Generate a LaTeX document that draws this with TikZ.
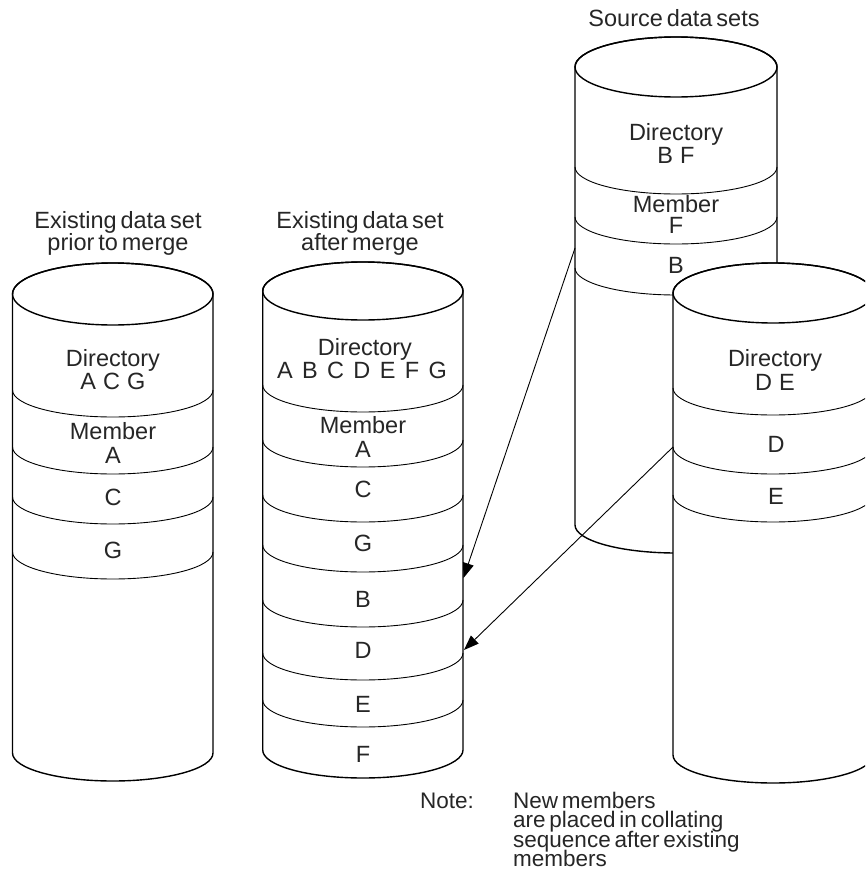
\documentclass[tikz,border=0pt]{standalone}
\usepackage{fontspec}
\setmainfont{Liberation Sans}[WordSpace=0.6]
\usetikzlibrary{arrows.meta}
\newcommand\cylshape[5]{% #1 cx, #2 top centre y, #3 bottom side y, #4 rx, #5 ry
  \filldraw[cylline,fill=white] ({#1-#4},#2) -- ({#1-#4},#3)
    arc[start angle=180,end angle=0,x radius=#4,y radius=28] -- ({#1+#4},#2)
    arc[start angle=0,end angle=-180,x radius=#4,y radius=#5] -- cycle;
  \draw[cylline] (#1,#2) ellipse[x radius=#4,y radius=#5];
}
\newcommand\cyldiv[3]{% #1 cx, #2 side y, #3 rx
  \draw[divline] ({#1-#3},#2) arc[start angle=180,end angle=0,x radius=#3,y radius=27];
}
\newcommand\ls{\hspace{0.3em}}
\newcommand\lw{\hspace{0.4em}}
\tikzset{
  cylline/.style={line width=1.4pt},
  divline/.style={line width=0.9pt},
  arr/.style={line width=0.9pt,-{Triangle[length=15pt,width=11pt]}},
  txt/.style={font=\fontsize{23.5}{22}\selectfont,inner sep=0pt,anchor=base,text=black!85},
  ntxt/.style={txt,font=\fontsize{22.5}{19}\selectfont,anchor=base west}
}
\begin{document}
\begin{tikzpicture}[x=1pt,y=-1pt]
\useasboundingbox (0,0) rectangle (865,888);
\clip (0,0) rectangle (865,888);
% left cylinder
\cylshape{112.75}{294}{753}{100.25}{31}
\cyldiv{112.75}{390}{100.25}
\cyldiv{112.75}{447}{100.25}
\cyldiv{112.75}{497}{100.25}
\cyldiv{112.75}{552}{100.25}
\node[txt] (la1) at (118,228) {Existing data set};
\node[txt] (la2) at (118,250) {prior to merge};
\node[txt] (ld1) at (113,366) {Directory};
\node[txt] (ld2) at (113,389) {A\ls C\ls G};
\node[txt] (lm1) at (113,439) {Member};
\node[txt] (lm2) at (113,463) {A};
\node[txt] (lc) at (113,505) {C};
\node[txt] (lg) at (113,558) {G};
% middle cylinder
\cylshape{362.85}{291}{750}{100.15}{29}
\cyldiv{362.85}{385}{100.15}
\cyldiv{362.85}{440}{100.15}
\cyldiv{362.85}{495}{100.15}
\cyldiv{362.85}{545}{100.15}
\cyldiv{362.85}{600}{100.15}
\cyldiv{362.85}{653}{100.15}
\cyldiv{362.85}{700}{100.15}
\node[txt] (ma1) at (360,228) {Existing data set};
\node[txt] (ma2) at (360,250) {after merge};
\node[txt] (md1) at (365,355) {Directory};
\node[txt] (md2) at (362,378) {A\lw B\lw C\lw D\lw E\lw F\lw G};
\node[txt] (mm1) at (363,433) {Member};
\node[txt] (mm2) at (363,457) {A};
\node[txt] (mc) at (363,497) {C};
\node[txt] (mg) at (363,551) {G};
\node[txt] (mb) at (363,607) {B};
\node[txt] (mdd) at (363,658) {D};
\node[txt] (me) at (363,712) {E};
\node[txt] (mf) at (363,762) {F};
% back source cylinder
\cylshape{676}{67}{525}{101}{30}
\cyldiv{676}{167}{101}
\cyldiv{676}{217}{101}
\cyldiv{676}{268}{101}
\node[txt] (sa) at (674,27) {Source data sets};
\node[txt] (sd1) at (676,140) {Directory};
\node[txt] (sd2) at (676,163) {B\ls F};
\node[txt] (sm1) at (676,212) {Member};
\node[txt] (sm2) at (676,233) {F};
\node[txt] (sb) at (676,273) {B};
% front source cylinder
\cylshape{773}{293}{755}{100}{30}
\cyldiv{773}{388}{100}
\cyldiv{773}{447}{100}
\cyldiv{773}{495}{100}
\node[txt] (fd1) at (775,366) {Directory};
\node[txt] (fd2) at (775,390) {D\ls E};
\node[txt] (fdd) at (776,452) {D};
\node[txt] (fe) at (776,504) {E};
% arrows
\coordinate (s1) at (575,248);
\coordinate (t1) at (463.5,578);
\coordinate (s2) at (673,447);
\coordinate (t2) at (464,650);
\draw[arr] (s1) -- (t1);
\draw[arr] (s2) -- (t2);
% note
\node[ntxt] (note) at (420,808) {Note:};
\node[ntxt] (n1) at (513,808) {New members};
\node[ntxt] (n2) at (513,827.5) {are placed in collating};
\node[ntxt] (n3) at (513,847) {sequence after existing};
\node[ntxt] (n4) at (513,866.5) {members};
\end{tikzpicture}
\end{document}
